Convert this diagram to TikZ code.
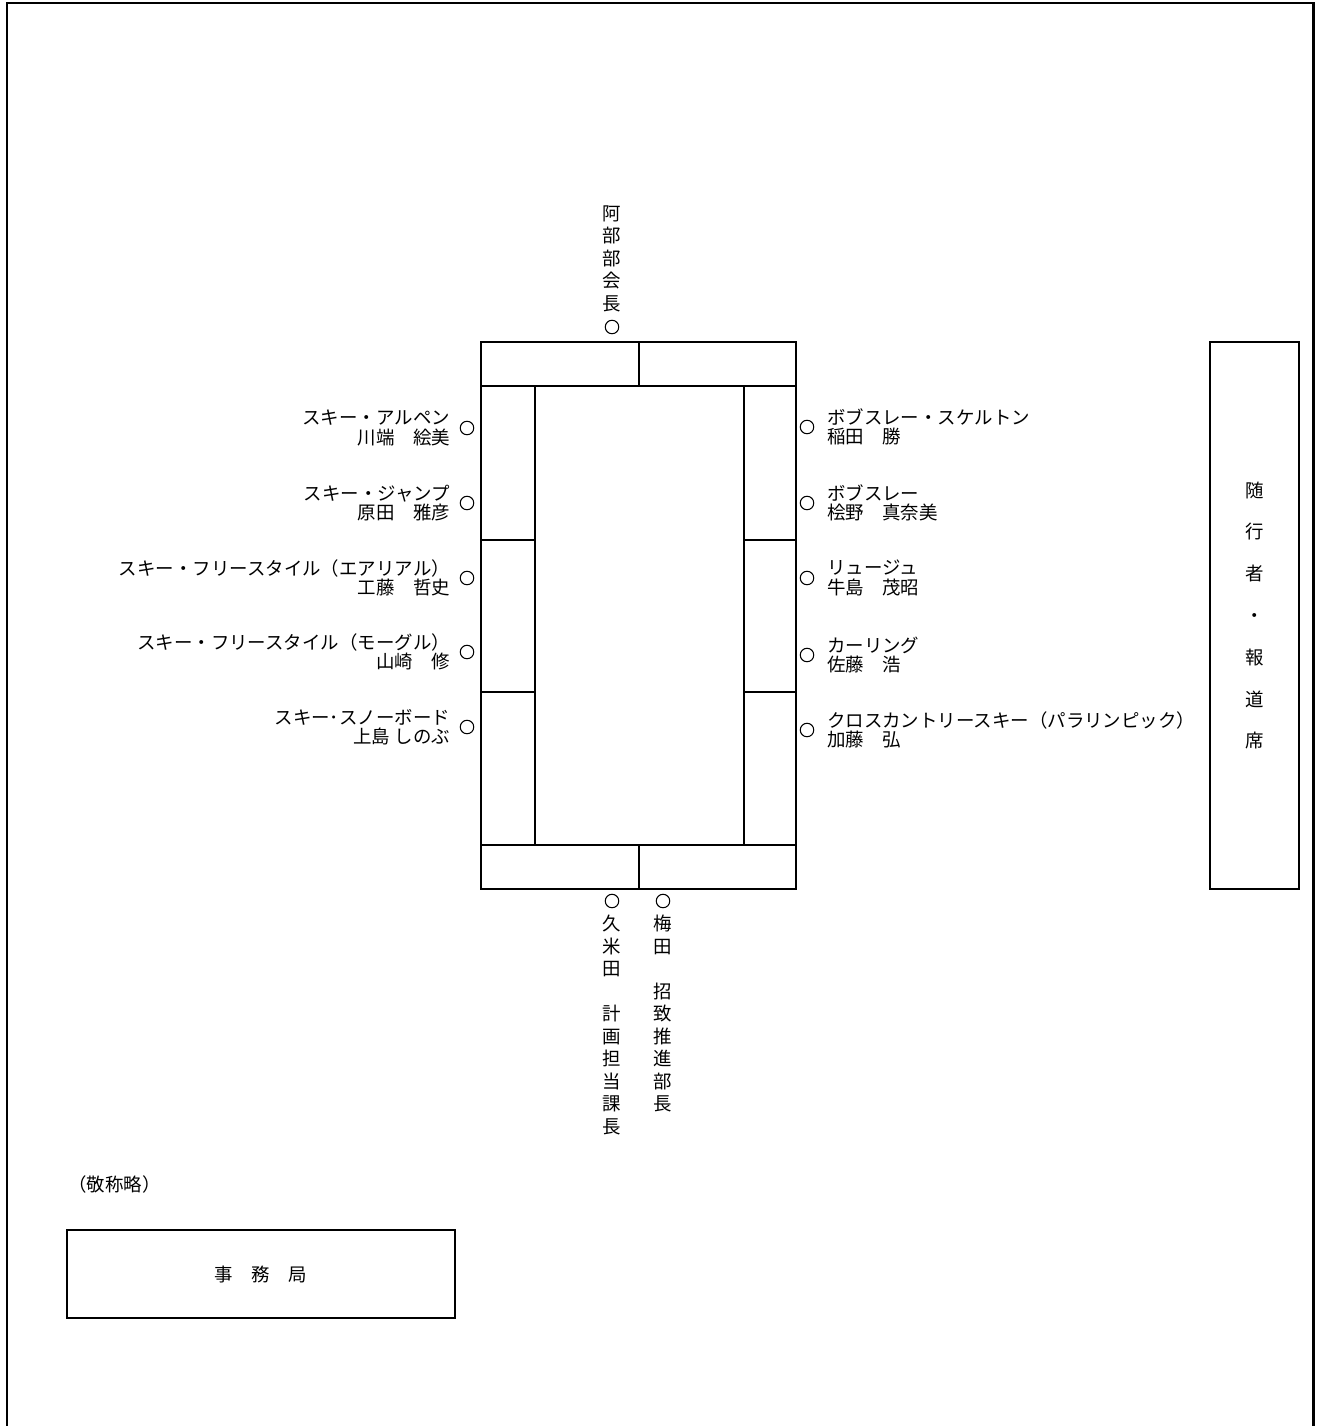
\documentclass[tikz,border=0pt]{standalone}
\usepackage{fontspec}
\setmainfont{Noto Sans CJK JP}
\usepackage{tikz}
\usetikzlibrary{positioning}

\begin{document}
\begin{tikzpicture}[x=0.02cm, y=-0.02cm,
	seat/.style={shape=circle, draw=black, line width=0.6pt, minimum size=0.27cm, inner sep=0pt, outer sep=0pt},
	member/.style={inner sep=0pt, font=\fontsize{10.5}{10.9}\selectfont},
	tate/.style={inner sep=0pt, align=center, font=\fontsize{10.5}{12.8}\selectfont},
	desk/.style={line width=1.1pt}]

	\useasboundingbox (0,0) rectangle (1317,1426);
	\draw[line width=1.7pt] (7,1430) -- (7,3) -- (1313,3) -- (1313,1430);

	% tables
	\draw[desk] (481,342) rectangle (796,889);
	\draw[desk] (481,386) -- (796,386);
	\draw[desk] (481,845) -- (796,845);
	\draw[desk] (639,342) -- (639,386);
	\draw[desk] (639,845) -- (639,889);
	\draw[desk] (535,386) -- (535,845);
	\draw[desk] (744,386) -- (744,845);
	\draw[desk] (481,540) -- (535,540);
	\draw[desk] (481,692) -- (535,692);
	\draw[desk] (744,540) -- (796,540);
	\draw[desk] (744,692) -- (796,692);

	% top and bottom
	\node[seat] (abe) at (612,327) {};
	\node[tate, above=0.16cm of abe] (abeL) {阿\\部\\部\\会\\長};
	\node[seat] (kumeda) at (612,901) {};
	\node[tate, below=0.14cm of kumeda] (kumedaL) {久\\米\\田\\　\\計\\画\\担\\当\\課\\長};
	\node[seat] (umeda) at (663,901) {};
	\node[tate, below=0.14cm of umeda] (umedaL) {梅\\田\\　\\招\\致\\推\\進\\部\\長};

	% left side
	\node[seat] (alpine) at (467,428) {};
	\node[member, align=right, left=0.2cm of alpine] (alpineL) {スキー・アルペン\\川端　絵美};
	\node[seat] (jump) at (467,503) {};
	\node[member, align=right, left=0.2cm of jump] (jumpL) {スキー・ジャンプ\\原田　雅彦};
	\node[seat] (aerial) at (467,578) {};
	\node[member, align=right, left=0.2cm of aerial] (aerialL) {スキー・フリースタイル（エアリアル）\\工藤　哲史};
	\node[seat] (mogul) at (467,652) {};
	\node[member, align=right, left=0.2cm of mogul] (mogulL) {スキー・フリースタイル（モーグル）\\山崎　修};
	\node[seat] (snowboard) at (467,727) {};
	\node[member, align=right, left=0.2cm of snowboard] (snowboardL) {スキー･スノーボード\\上島 しのぶ};

	% right side
	\node[seat] (skeleton) at (807,427) {};
	\node[member, align=left, right=0.26cm of skeleton] (skeletonL) {ボブスレー・スケルトン\\稲田　勝};
	\node[seat] (bobsleigh) at (807,503) {};
	\node[member, align=left, right=0.26cm of bobsleigh] (bobsleighL) {ボブスレー\\桧野　真奈美};
	\node[seat] (luge) at (807,578) {};
	\node[member, align=left, right=0.26cm of luge] (lugeL) {リュージュ\\牛島　茂昭};
	\node[seat] (curling) at (807,655) {};
	\node[member, align=left, right=0.26cm of curling] (curlingL) {カーリング\\佐藤　浩};
	\node[seat] (crosscountry) at (807,730) {};
	\node[member, align=left, right=0.26cm of crosscountry] (crosscountryL) {クロスカントリースキー（パラリンピック）\\加藤　弘};

	% press and office
	\node[draw=black, desk, tate, minimum width=1.78cm, minimum height=10.94cm,
		font=\fontsize{10.5}{23.8}\selectfont] (press) at (1254.5,615.5) {随\\行\\者\\・\\報\\道\\席};
	\node[member, anchor=west] (note) at (68,1184) {（敬称略）};
	\node[draw=black, desk, member, minimum width=7.76cm, minimum height=1.76cm] (office) at (261,1274) {事　務　局};

\end{tikzpicture}
\end{document}
